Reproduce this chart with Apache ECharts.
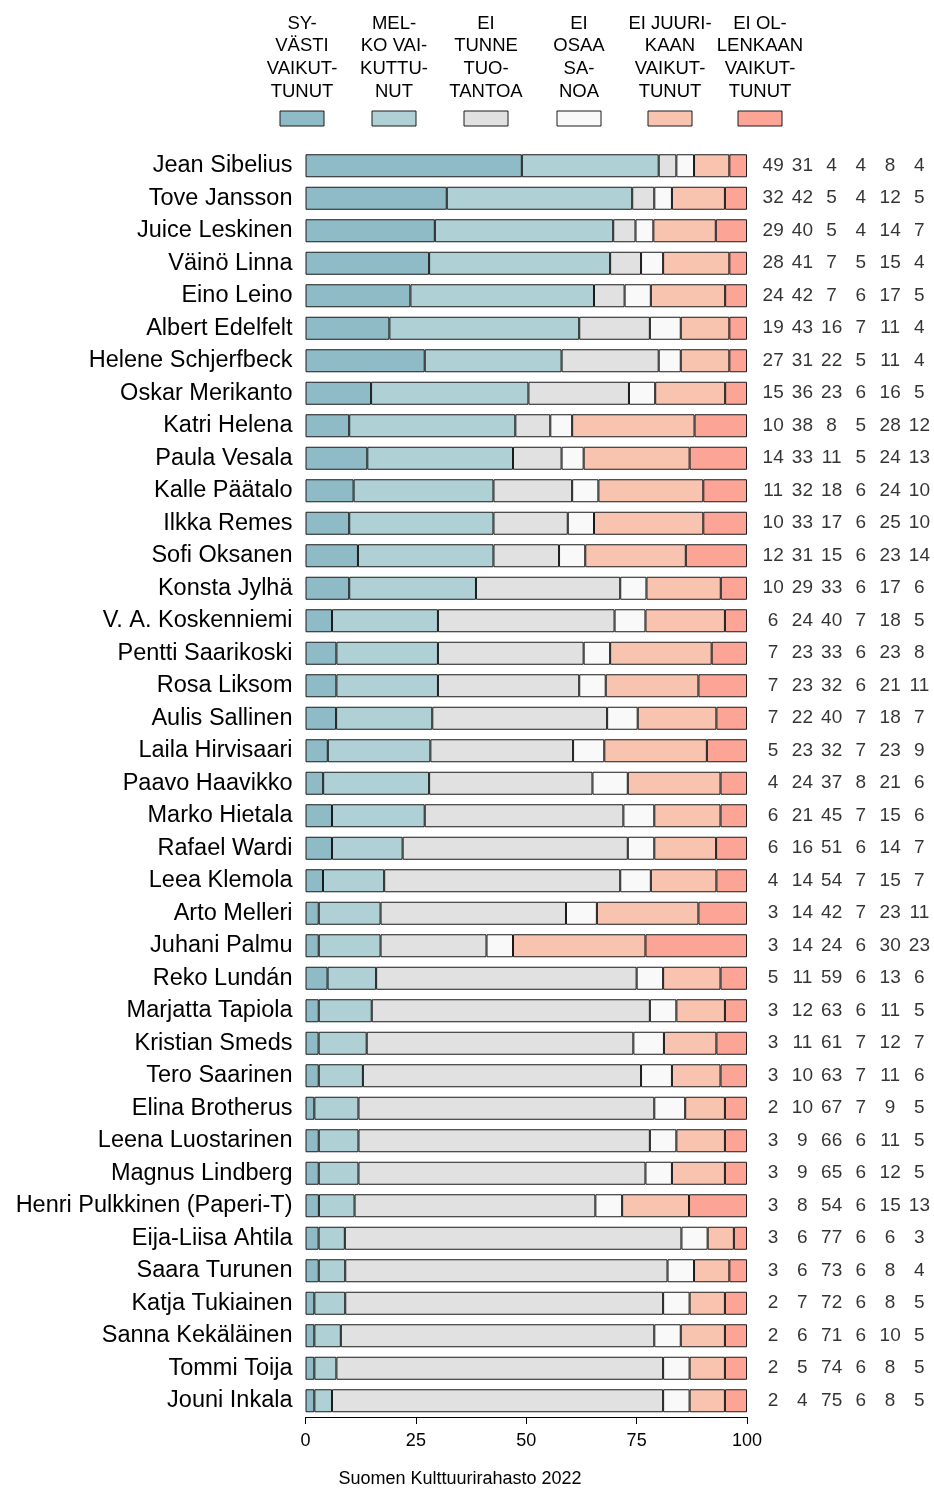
<!DOCTYPE html>
<html>
<head>
<meta charset="utf-8">
<script src="https://cdn.jsdelivr.net/npm/echarts@6/dist/echarts.min.js"></script>
<style>
  html, body { margin: 0; padding: 0; background: #fff; }
  #chart { width: 934px; height: 1488px; }
</style>
</head>
<body>
<div id="chart"></div>
<script>
// nimet ylhäältä alas
const names = [
  'Jean Sibelius', 'Tove Jansson', 'Juice Leskinen', 'Väinö Linna', 'Eino Leino',
  'Albert Edelfelt', 'Helene Schjerfbeck', 'Oskar Merikanto', 'Katri Helena', 'Paula Vesala',
  'Kalle Päätalo', 'Ilkka Remes', 'Sofi Oksanen', 'Konsta Jylhä', 'V. A. Koskenniemi',
  'Pentti Saarikoski', 'Rosa Liksom', 'Aulis Sallinen', 'Laila Hirvisaari', 'Paavo Haavikko',
  'Marko Hietala', 'Rafael Wardi', 'Leea Klemola', 'Arto Melleri', 'Juhani Palmu',
  'Reko Lundán', 'Marjatta Tapiola', 'Kristian Smeds', 'Tero Saarinen', 'Elina Brotherus',
  'Leena Luostarinen', 'Magnus Lindberg', 'Henri Pulkkinen (Paperi-T)', 'Eija-Liisa Ahtila', 'Saara Turunen',
  'Katja Tukiainen', 'Sanna Kekäläinen', 'Tommi Toija', 'Jouni Inkala'
]

const categories = [
  'SY-\nVÄSTI\nVAIKUT-\nTUNUT',
  'MEL-\nKO VAI-\nKUTTU-\nNUT',
  'EI\nTUNNE\nTUO-\nTANTOA',
  'EI\nOSAA\nSA-\nNOA',
  'EI JUURI-\nKAAN\nVAIKUT-\nTUNUT',
  'EI OL-\nLENKAAN\nVAIKUT-\nTUNUT'
]

const syvasti = [49, 32, 29, 28, 24, 19, 27, 15, 10, 14, 11, 10, 12, 10, 6, 7, 7, 7, 5, 4, 6, 6, 4, 3, 3, 5, 3, 3, 3, 2, 3, 3, 3, 3, 3, 2, 2, 2, 2]
const melko = [31, 42, 40, 41, 42, 43, 31, 36, 38, 33, 32, 33, 31, 29, 24, 23, 23, 22, 23, 24, 21, 16, 14, 14, 14, 11, 12, 11, 10, 10, 9, 9, 8, 6, 6, 7, 6, 5, 4]
const eiTunne = [4, 5, 5, 7, 7, 16, 22, 23, 8, 11, 18, 17, 15, 33, 40, 33, 32, 40, 32, 37, 45, 51, 54, 42, 24, 59, 63, 61, 63, 67, 66, 65, 54, 77, 73, 72, 71, 74, 75]
const eiOsaa = [4, 4, 4, 5, 6, 7, 5, 6, 5, 5, 6, 6, 6, 6, 7, 6, 6, 7, 7, 8, 7, 6, 7, 7, 6, 6, 6, 7, 7, 7, 6, 6, 6, 6, 6, 6, 6, 6, 6]
const eiJuuri = [8, 12, 14, 15, 17, 11, 11, 16, 28, 24, 24, 25, 23, 17, 18, 23, 21, 18, 23, 21, 15, 14, 15, 23, 30, 13, 11, 12, 11, 9, 11, 12, 15, 6, 8, 8, 10, 8, 8]
const eiOllenkaan = [4, 5, 7, 4, 5, 4, 4, 5, 12, 13, 10, 10, 14, 6, 5, 8, 11, 7, 9, 6, 6, 7, 7, 11, 23, 6, 5, 7, 6, 5, 5, 5, 13, 3, 4, 5, 5, 5, 5]

const colors = ['#8fbbc7', '#afd1d6', '#e1e1e1', '#f9f9f9', '#f8c4b0', '#fca597']
const colIds = ['c1', 'c2', 'c3', 'c4', 'c5', 'c6']

const groups = [syvasti, melko, eiTunne, eiOsaa, eiJuuri, eiOllenkaan]
// pyöristetyt luvut eivät aina summaudu sataan -> palkit skaalataan riveittäin
const totals = names.map((n, i) => groups.reduce((s, g) => s + g[i], 0))

const FONT = '"Liberation Sans", Arial, sans-serif'

const barSeries = groups.map((g, k) => ({
  name: categories[k],
  type: 'bar',
  stack: 'all',
  xAxisIndex: 0,
  yAxisIndex: 0,
  barWidth: 23,
  itemStyle: { color: colors[k], borderColor: '#1a1a1a', borderWidth: 1 },
  data: g.map((v, i) => v / totals[i] * 100)
}))

const tableData = []
groups.forEach((g, k) => {
  g.forEach((v, i) => tableData.push([colIds[k], names[i], v]))
})

const legendGraphics = []
const legendX = [302, 394, 486, 579, 670, 760]
categories.forEach((c, k) => {
  legendGraphics.push({
    type: 'text',
    x: legendX[k],
    y: 103,
    style: {
      text: c,
      fill: '#000',
      font: '18.5px ' + FONT,
      align: 'center',
      verticalAlign: 'bottom',
      lineHeight: 22.7
    }
  })
  legendGraphics.push({
    type: 'rect',
    shape: { x: legendX[k] - 22, y: 111, width: 44, height: 15 },
    style: { fill: colors[k], stroke: '#1a1a1a', lineWidth: 1 }
  })
})

const chart = echarts.init(document.getElementById('chart'))
chart.setOption({
  animation: false,
  textStyle: { fontFamily: FONT },
  grid: [
    { left: 305.5, right: 187, top: 149.5, bottom: 71 },
    { left: 758.5, right: -1, top: 149.5, bottom: 71 }
  ],
  xAxis: [
    {
      type: 'value', gridIndex: 0, min: 0, max: 100, interval: 25,
      splitLine: { show: false },
      axisLine: { show: true, lineStyle: { color: '#000', width: 1 } },
      axisTick: { show: true, length: 7, lineStyle: { color: '#000' } },
      axisLabel: { color: '#000', fontSize: 18, margin: 15, fontFamily: FONT }
    },
    {
      type: 'category', gridIndex: 1, data: colIds, show: false
    }
  ],
  yAxis: [
    {
      type: 'category', gridIndex: 0, data: names, inverse: true,
      axisLine: { show: false },
      axisTick: { show: false },
      axisLabel: { color: '#000', fontSize: 23.5, margin: 13, fontFamily: FONT }
    },
    {
      type: 'category', gridIndex: 1, data: names, inverse: true, show: false
    }
  ],
  graphic: legendGraphics.concat([
    {
      type: 'text',
      x: 460,
      y: 1479,
      style: {
        text: 'Suomen Kulttuurirahasto 2022',
        fill: '#000',
        font: '18px ' + FONT,
        align: 'center',
        verticalAlign: 'middle'
      }
    }
  ]),
  series: barSeries.concat([
    {
      type: 'scatter',
      xAxisIndex: 1,
      yAxisIndex: 1,
      symbolSize: 0,
      data: tableData,
      label: {
        show: true,
        position: 'inside',
        color: '#000',
        fontSize: 19,
        fontFamily: FONT,
        formatter: p => p.value[2]
      }
    }
  ])
})
</script>
</body>
</html>
